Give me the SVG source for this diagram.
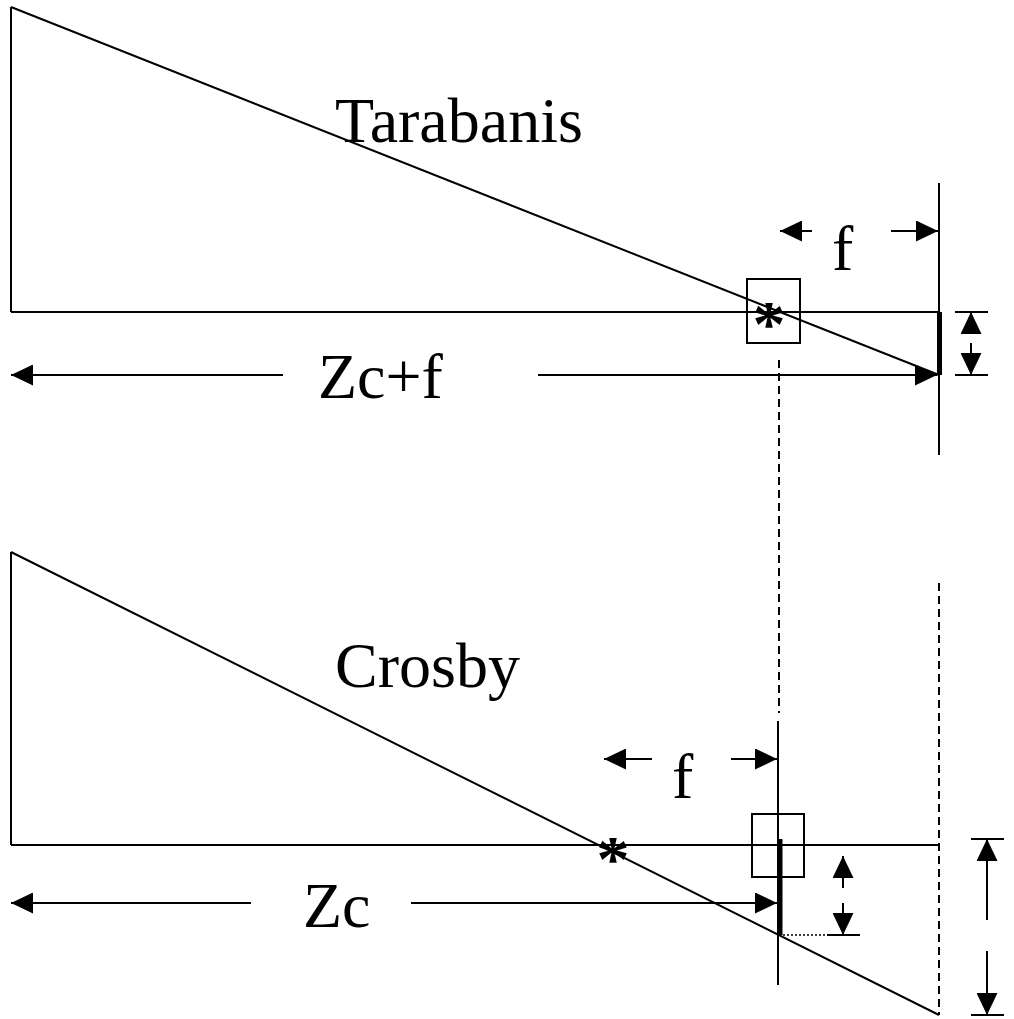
<svg xmlns="http://www.w3.org/2000/svg" width="1014" height="1019" viewBox="0 0 1014 1019">
<style>
.ln{stroke:#000;stroke-width:2;fill:none}
.thick{stroke:#000;stroke-width:5;fill:none}
.dash{stroke:#000;stroke-width:2;fill:none;stroke-dasharray:8 5}
.dot{stroke:#000;stroke-width:1.5;fill:none;stroke-dasharray:2 2}
.box{stroke:#000;stroke-width:2;fill:none}
.lbl{font-family:"Liberation Serif","Times New Roman",serif;font-size:64px;fill:#000}
.star{font-family:"Liberation Serif","Times New Roman",serif;font-size:66px;font-weight:bold;fill:#000;text-anchor:middle}
.arr{stroke:#000;stroke-width:2;fill:none;marker-end:url(#ah)}
</style>
<defs>
<marker id="ah" markerUnits="userSpaceOnUse" markerWidth="22" markerHeight="21" refX="22" refY="10.5" orient="auto">
<path d="M0,0 L22,10.5 L0,21 Z" fill="#000"/>
</marker>
</defs>
<rect width="1014" height="1019" fill="#fff"/>

<g id="tarabanis">
<line class="ln" x1="11" y1="7" x2="11" y2="312"/>
<line class="ln" x1="11" y1="312" x2="939" y2="312"/>
<line class="ln" x1="11" y1="7" x2="939" y2="375"/>
<line class="ln" x1="939" y1="183" x2="939" y2="455"/>
<line class="thick" x1="939.5" y1="312" x2="939.5" y2="375"/>
<rect id="tarabanis-box" class="box" x="747" y="279" width="53" height="64"/>
<text class="star" x="769" y="346">*</text>
<text id="tarabanis-label" class="lbl" x="335" y="142">Tarabanis</text>
<text class="lbl" x="832" y="270">f</text>
<text class="lbl" x="318" y="398">Zc+f</text>
<line class="ln" x1="955" y1="312" x2="988" y2="312"/>
<line class="ln" x1="955" y1="375" x2="988" y2="375"/>
</g>

<g id="crosby">
<line class="ln" x1="11" y1="552" x2="11" y2="845"/>
<line class="ln" x1="11" y1="845" x2="939" y2="845"/>
<line class="ln" x1="11" y1="552" x2="939" y2="1015"/>
<line class="ln" x1="778" y1="721" x2="778" y2="985"/>
<line class="thick" x1="780" y1="839" x2="780" y2="935"/>
<rect id="crosby-box" class="box" x="752" y="814" width="52" height="63"/>
<text class="star" x="613" y="881">*</text>
<text id="crosby-label" class="lbl" x="335" y="687">Crosby</text>
<text class="lbl" x="672" y="798">f</text>
<text class="lbl" x="303" y="927">Zc</text>
<line class="dot" x1="779" y1="935" x2="827" y2="935"/>
<line class="ln" x1="827" y1="935" x2="860" y2="935"/>
<line class="ln" x1="971" y1="839" x2="1004" y2="839"/>
<line class="ln" x1="971" y1="1015" x2="1004" y2="1015"/>
</g>

<g id="connectors">
<line class="dash" x1="779" y1="360" x2="779" y2="713"/>
<line class="dash" x1="939" y1="583" x2="939" y2="1015"/>
<line class="arr" x1="812" y1="231" x2="780" y2="231"/>
<line class="arr" x1="891" y1="231" x2="938" y2="231"/>
<line class="arr" x1="283" y1="375" x2="11" y2="375"/>
<line class="arr" x1="538" y1="375" x2="937" y2="375"/>
<line class="arr" x1="971" y1="334" x2="971" y2="312"/>
<line class="arr" x1="971" y1="343" x2="971" y2="375"/>
<line class="arr" x1="652" y1="759" x2="604" y2="759"/>
<line class="arr" x1="731" y1="759" x2="777" y2="759"/>
<line class="arr" x1="251" y1="903" x2="11" y2="903"/>
<line class="arr" x1="411" y1="903" x2="777" y2="903"/>
<line class="arr" x1="843" y1="888" x2="843" y2="856"/>
<line class="arr" x1="843" y1="903" x2="843" y2="935"/>
<line class="arr" x1="987" y1="920" x2="987" y2="839"/>
<line class="arr" x1="987" y1="951" x2="987" y2="1015"/>
</g>
</svg>
